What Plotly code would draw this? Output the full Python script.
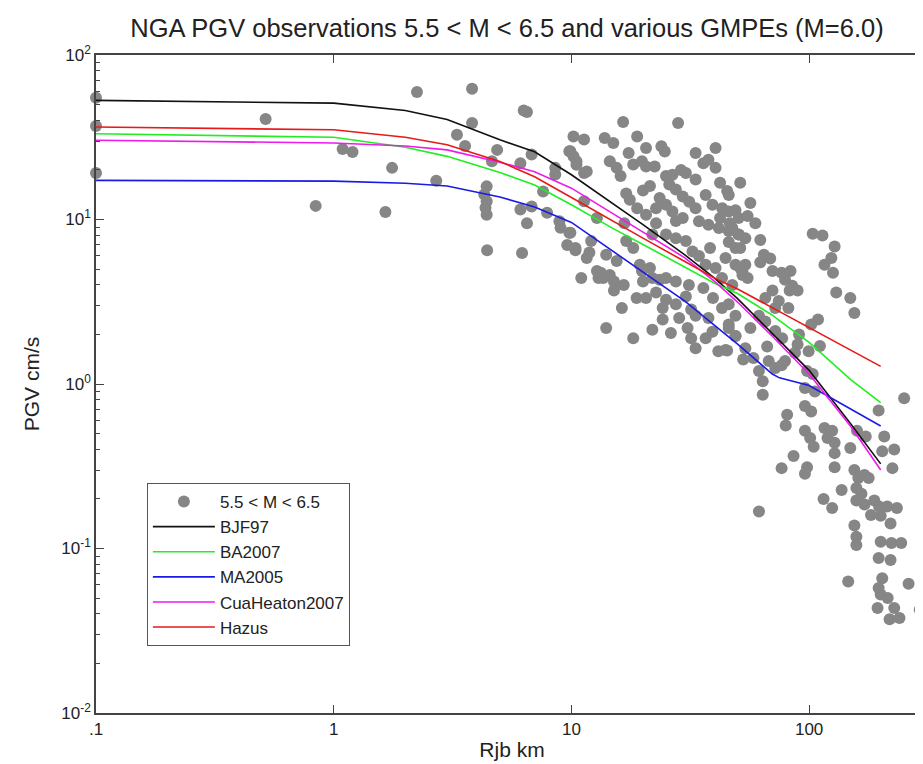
import plotly.graph_objects as go

# ---------------- data ----------------
obs_r = [0.1, 0.1, 0.1, 0.517, 0.84, 1.09, 1.2, 1.76, 1.65, 2.24, 3.82, 3.82, 3.3, 3.57, 2.7,
         4.87, 4.63, 4.4, 4.3, 4.4, 4.35, 4.4, 4.42, 6.2, 6.1, 6.5, 6.8, 6.1, 6.8, 6.3, 6.5,
         8.55, 8.55, 7.6, 7.9, 8.9, 9.0, 9.8, 9.6, 10.4, 10.2, 9.8, 10.2, 11.3, 10.5, 11.3, 11.3,
         16.5, 28.1, 13.8, 15.0, 18.9, 23.9, 24.7, 9.9, 10.5, 14.5, 15.5, 18.2, 19.8, 20.6, 22.4,
         35.9, 37.7, 40.4, 11.6, 16.1, 25.0, 26.6, 28.9, 30.3, 33.3, 21.4, 20.0, 25.8, 27.5,
         17.0, 17.6, 23.5, 25.0, 29.4, 31.3, 33.3, 36.7, 39.2, 43.1, 45.9, 18.9, 20.6, 22.7,
         26.6, 27.5, 29.4, 12.8, 16.7, 34.4, 37.7, 41.7, 45.9, 50.5, 22.7, 21.9, 9.9, 10.4,
         12.1, 11.9, 17.0, 18.2, 25.0, 27.5, 30.3, 32.3, 34.4, 36.7, 40.4, 14.0, 15.5, 44.5,
         49.0, 52.4, 12.8, 13.6, 15.1, 16.6, 21.9, 20.0, 27.5, 31.2, 43.0, 47.5, 19.4, 21.4,
         13.0, 14.5, 15.1, 19.8, 23.5, 25.0, 25.0, 24.2, 24.2, 27.5, 28.4, 30.3, 31.9, 33.3,
         21.9, 18.2, 30.8, 31.9, 35.9, 39.4, 43.0, 37.7, 39.2, 45.9, 49.0, 41.5, 44.5, 52.8,
         45.2, 45.9, 49.0, 50.5, 55.1, 47.5, 50.5, 45.9, 49.0, 53.9, 62.3, 64.5, 51.3, 53.9,
         52.4, 55.1, 70.1, 76.6, 83.5, 79.2, 84.9, 89.4, 82.8, 103.5, 113.8, 128, 124, 116,
         126, 130, 149, 155, 70.1, 74.5, 81.8, 45.9, 49.0, 61.5, 65.4, 72.0, 77.0, 109, 102,
         111, 99.5, 90.7, 89.4, 45.9, 49.0, 45.2, 53.9, 58.3, 66.6, 67.6, 72.0, 76.6, 61.5,
         63.8, 63.8, 98, 103.5, 96, 105.7, 251, 96, 102, 80.8, 79.7, 96, 101, 104.5, 116, 125,
         119.5, 196, 149, 128, 128, 159, 173, 207, 203, 228, 86, 76.6, 98, 96, 128, 155, 161,
         171, 178, 224, 137, 115, 125, 158, 166, 158, 171, 188, 197, 213, 234, 182, 200, 220,
         61.5, 155, 158, 158, 200, 222, 244, 196, 220, 146, 203, 196, 200, 214, 262, 194, 228,
         292, 218, 240,
         20.6, 17.4, 33.3, 40.4, 42.2, 51.3, 56.6, 51.3, 62.3, 68.6, 65.4, 72.0, 56.6, 87.2,
         79.2, 36.7, 33.3, 26.2, 18.8, 16.3, 14.0, 20.6, 22.7, 13.3, 11.6, 11.0, 38.3, 42.2,
         46.4, 59.4]
obs_pgv = [55, 37, 19.2, 40.8, 12.1, 26.8, 25.7, 20.6, 11.1, 59.6, 62.4, 38.6, 32.8, 28, 17.2,
           26.5, 22.6, 15.9, 14.2, 12.9, 11.8, 10.7, 6.5, 6.25, 11.5, 9.5, 12.0, 22.0, 24.8, 46, 45,
           20.6, 18.8, 14.8, 11.0, 9.75, 8.9, 8.3, 7.0, 6.5, 32, 26, 24.2, 30.6, 21.5, 19.2, 12.9,
           39.2, 38.6, 31.3, 29.2, 32, 27.9, 25.9, 26, 22.6, 22.6, 20.6, 21.6, 22.6, 21, 21,
           22, 23.1, 20.6, 19.6, 18.4, 18.4, 18.7, 20, 19.2, 17.5, 16, 15, 16.3, 15.2,
           14.4, 13.2, 13.5, 12.3, 13.8, 12.8, 11.7, 14.1, 12.3, 11.7, 14.1, 11.7, 10.7, 11.7,
           11.2, 9.8, 10.2, 10.2, 9.5, 9.75, 9.3, 8.87, 8.5, 8.1, 9.5, 8.1, 8.3, 6.7,
           7.4, 6.3, 7.4, 6.7, 8.1, 7.7, 7.4, 6.4, 6.0, 5.3, 5.07, 6.1, 5.6, 5.83,
           5.3, 4.85, 4.86, 4.41, 4.2, 4.0, 4.41, 4.2, 4.2, 4.0, 4.41, 4.0, 5.3, 5.07,
           4.41, 4.6, 3.7, 4.86, 4.3, 4.41, 3.25, 2.9, 2.47, 3.05, 2.52, 3.4, 2.84, 2.6,
           2.14, 1.9, 2.19, 1.9, 3.83, 3.33, 2.9, 2.52, 2.08, 2.3, 1.96, 1.58, 1.61, 1.41,
           14.9, 11.2, 11.4, 10.2, 10.5, 8.87, 8.1, 7.3, 6.7, 7.7, 7.5, 6.1, 5.07, 5.3,
           4.6, 4.41, 4.86, 4.75, 4.86, 4.3, 3.95, 3.7, 3.7, 8.2, 8.0, 6.85, 5.83, 5.3,
           4.75, 3.6, 3.33, 2.7, 3.7, 3.2, 2.9, 3.05, 2.6, 2.6, 2.4, 2.1, 1.9, 2.47, 2.3,
           1.7, 1.58, 2.0, 1.74, 2.19, 1.96, 1.6, 1.65, 1.44, 1.69, 1.38, 1.25, 1.3, 1.2,
           1.04, 0.86, 1.2, 1.15, 0.945, 0.9, 0.82, 0.735, 0.68, 0.65, 0.56, 0.52, 0.47, 0.415, 0.54, 0.52,
           0.47, 0.69, 0.408, 0.44, 0.38, 0.52, 0.48, 0.48, 0.39, 0.4, 0.365, 0.308, 0.312, 0.285, 0.312, 0.3, 0.268,
           0.28, 0.268, 0.308, 0.227, 0.2, 0.176, 0.233, 0.215, 0.196, 0.185, 0.196, 0.18, 0.18, 0.176, 0.16, 0.158, 0.142,
           0.168, 0.138, 0.118, 0.105, 0.11, 0.108, 0.108, 0.0875, 0.085, 0.063, 0.066, 0.0575, 0.0525, 0.05, 0.061, 0.0435, 0.0435,
           0.0425, 0.0372, 0.0378,
           27.2, 25.4, 25.4, 27.2, 16.7, 16.7, 12.6, 6.7, 5.5, 5.8, 3.33, 2.9, 2.19, 1.55,
           1.38, 1.9, 1.65, 2.04, 3.33, 2.9, 2.19, 3.33, 3.6, 4.75, 5.83, 4.41, 6.7, 10.2,
           9.5, 9.5]

curve_r = [0.1, 1, 2, 3, 5, 7, 10, 15, 20, 30, 40, 50, 70, 75, 100, 150, 200]
bjf97 = [53, 51, 46, 40.5, 30.5, 25.8, 18.7, 12.5, 9.3, 6.1, 4.4, 3.3, 2.02, 1.83, 1.21, 0.57, 0.327]
ba2007 = [33.2, 31.6, 27.5, 24.2, 19.3, 16.2, 12.3, 8.8, 7.05, 5.1, 4.1, 3.55, 2.62, 2.43, 1.79, 1.06, 0.77]
ma2005 = [17.3, 17.1, 16.6, 16.0, 13.7, 11.9, 9.6, 6.4, 4.8, 3.19, 2.27, 1.75, 1.15, 1.09, 0.98, 0.70, 0.556]
cua2007 = [30.3, 29.2, 28.0, 26.5, 22.3, 19.5, 15.5, 10.8, 8.4, 5.85, 4.2, 3.15, 1.95, 1.76, 1.15, 0.55, 0.30]
hazus = [36.5, 35.1, 31.6, 28.5, 22.5, 18.2, 13.6, 9.7, 7.7, 5.55, 4.4, 3.78, 2.9, 2.74, 2.19, 1.59, 1.28]

x_tickvals = [0.1, 1, 10, 100]
x_ticktext = [".1", "1", "10", "100"]
y_tickvals = [0.01, 0.1, 1, 10, 100]
y_ticktext = ["10<sup>-2</sup>", "10<sup>-1</sup>", "10<sup>0</sup>", "10<sup>1</sup>", "10<sup>2</sup>"]

FONT = "Liberation Sans, Arial, Helvetica, sans-serif"

fig = go.Figure()
fig.add_trace(go.Scatter(x=obs_r, y=obs_pgv, mode="markers", name="5.5 < M < 6.5",
                         marker=dict(size=12, color="#868686", line=dict(width=0)),
                         cliponaxis=False, legendgroup="a"))
curves = [("BJF97", bjf97, "#111111"), ("BA2007", ba2007, "#22ee22"),
          ("MA2005", ma2005, "#1a1ae6"), ("CuaHeaton2007", cua2007, "#ee1aee"),
          ("Hazus", hazus, "#e61a1a")]
for i, (name, vals, col) in enumerate(curves):
    fig.add_trace(go.Scatter(x=curve_r, y=vals, mode="lines", name=name,
                             line=dict(color=col, width=1.6), legendgroup=str(i)))

minor_y = [m * 10 ** e for e in range(-2, 2) for m in range(2, 10)]

fig.update_layout(
    width=923, height=764,
    margin=dict(l=88, r=1, t=47, b=59),
    paper_bgcolor="white", plot_bgcolor="white",
    font=dict(family=FONT, size=16, color="#222"),
    title=dict(text="NGA PGV observations 5.5 < M < 6.5 and various GMPEs (M=6.0)",
               x=(500 - 88) / 834, xref="paper", xanchor="center", y=1 - 20 / 764, yanchor="middle",
               font=dict(family=FONT, size=25.5, color="#222")),
    showlegend=True,
    legend=dict(x=(139 - 88) / 834, y=1 - (475 - 47) / 658, xanchor="left", yanchor="top",
                bordercolor="#555", borderwidth=1, bgcolor="white",
                font=dict(family=FONT, size=17, color="#222"),
                traceorder="grouped", tracegroupgap=0, itemwidth=62),
    xaxis=dict(type="log", range=[-1, 2.5], tickmode="array", tickvals=x_tickvals,
               ticktext=x_ticktext, ticks="inside", ticklen=8, tickcolor="#444",
               showline=True, linecolor="#444", linewidth=1.5, mirror="ticks",
               showgrid=False, zeroline=False, tickfont=dict(size=17),
               title=dict(text="Rjb km", font=dict(family=FONT, size=21, color="#222"), standoff=4)),
    yaxis=dict(type="log", range=[-2, 2], tickmode="array", tickvals=y_tickvals,
               ticktext=y_ticktext, ticks="inside", ticklen=8, tickcolor="#444",
               showline=True, linecolor="#444", linewidth=1.5, mirror="ticks",
               showgrid=False, zeroline=False, tickfont=dict(size=17),
               minor=dict(tickmode="array", tickvals=minor_y, ticks="inside", ticklen=4,
                          tickcolor="#444", showgrid=False),
               title=dict(text="PGV cm/s", font=dict(family=FONT, size=21, color="#222"), standoff=16)),
)

fig.write_html("out.html")
